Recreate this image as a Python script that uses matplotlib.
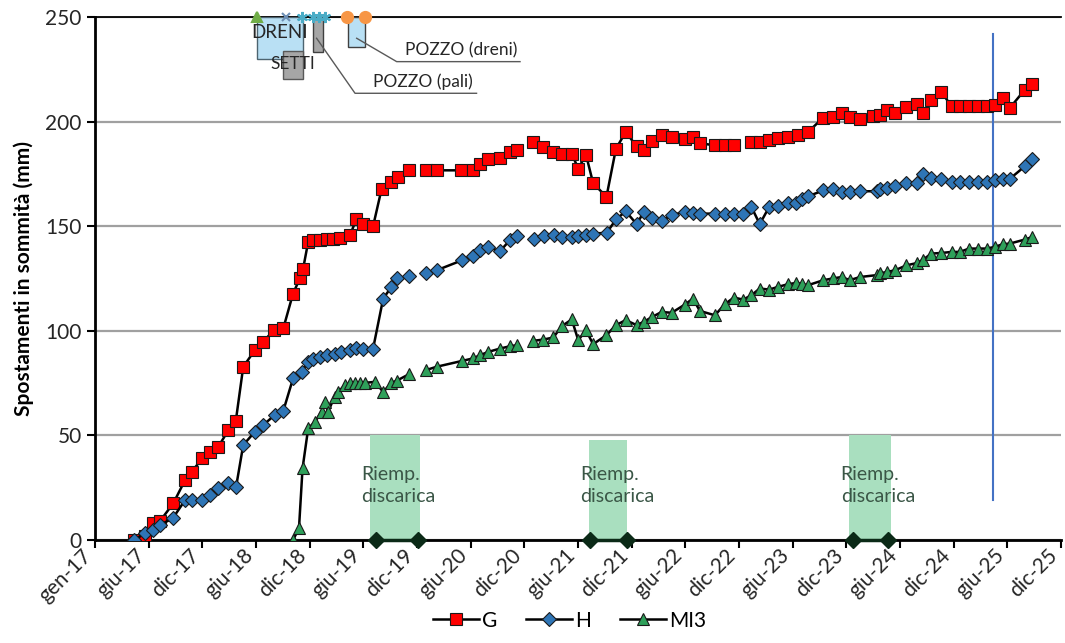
import matplotlib
matplotlib.use("Agg")
import matplotlib.pyplot as plt
import matplotlib.dates as mdates
from matplotlib.patches import Rectangle
import numpy as np
from datetime import datetime

plt.rcParams['font.family'] = ['Lato', 'DejaVu Sans']

# asse x: etichette ogni 181 giorni a partire da gen-17
tick_labels = ["gen-17", "giu-17", "dic-17", "giu-18", "dic-18", "giu-19", "dic-19",
               "giu-20", "dic-20", "giu-21", "dic-21", "giu-22", "dic-22", "giu-23",
               "dic-23", "giu-24", "dic-24", "giu-25", "dic-25"]
tick_start = "2017-01-01"
tick_step_days = 181

# serie G
g_dates = ["2017-05-12", "2017-06-20", "2017-07-16", "2017-08-08", "2017-09-22", "2017-11-01",
           "2017-11-23", "2017-12-29", "2018-01-24", "2018-02-21", "2018-03-27", "2018-04-21",
           "2018-05-16", "2018-06-24", "2018-07-22", "2018-08-27", "2018-09-28", "2018-10-31",
           "2018-11-23", "2018-12-04", "2018-12-21", "2019-01-07", "2019-01-29", "2019-02-21",
           "2019-03-15", "2019-04-07", "2019-05-11", "2019-06-02", "2019-06-25", "2019-07-28",
           "2019-08-26", "2019-09-28", "2019-10-21", "2019-11-27", "2019-12-20",
           "2020-01-22", "2020-02-27", "2020-05-21", "2020-06-29", "2020-07-22", "2020-08-19",
           "2020-09-28", "2020-10-31", "2020-11-23", "2020-12-20",
           "2021-01-18", "2021-02-21", "2021-03-27", "2021-04-24", "2021-05-28", "2021-06-19",
           "2021-07-15", "2021-08-08", "2021-09-22", "2021-10-24", "2021-11-26", "2022-01-02",
           "2022-01-26", "2022-02-23", "2022-03-27", "2022-04-30", "2022-06-13", "2022-07-11",
           "2022-08-03", "2022-09-23", "2022-10-26", "2022-11-26", "2022-12-27", "2023-01-24",
           "2023-02-21", "2023-03-25", "2023-04-24", "2023-05-28", "2023-07-01", "2023-08-03",
           "2023-09-23", "2023-10-25", "2023-11-24", "2023-12-22", "2024-01-25", "2024-03-09",
           "2024-04-01", "2024-04-24", "2024-05-22", "2024-06-30", "2024-08-05", "2024-08-25",
           "2024-09-22", "2024-10-26", "2024-11-29", "2024-12-27", "2025-01-27", "2025-02-26",
           "2025-03-27", "2025-04-24", "2025-05-21", "2025-06-14", "2025-08-03", "2025-08-29"]
g_vals = [0, 2, 8, 9, 17.5, 28.7,
          32.6, 39, 42.2, 44.6, 52.5, 57,
          82.8, 90.7, 94.7, 100.3, 101.1, 117.8,
          125, 129.7, 142.5, 143.3, 143.6, 143.7,
          144, 144.5, 145.6, 153.6, 151, 150,
          168, 171, 173.5, 176.7, None,
          176.7, 176.7, 176.7, 176.7, 179.9, 182.3,
          182.8, 185.4, 186.6, None,
          190.2, 187.8, 185.4, 184.6, 184.6, 177.5,
          184.2, 170.6, 164, 187, 195, 188.2,
          186.2, 190.7, 193.4, 192.6, 191.8, 192.6,
          189.7, 188.6, 188.6, 188.6, None, 190.2,
          190.2, 191.3, 192.3, 192.6, 193.4, 195,
          201.9, 202.2, 204.1, 202.2, 201.4, 202.5,
          203, 205.7, 204.1, 206.9, 208.2, 204.1,
          210.1, 214.1, 207.3, 207.3, 207.3, 207.3,
          207.3, 207.7, 211.4, 206.6, 215.2, 218.1]

# serie H
h_dates = ["2017-05-12", "2017-06-20", "2017-07-16", "2017-08-08", "2017-09-20", "2017-11-01",
           "2017-11-23", "2017-12-29", "2018-01-24", "2018-02-21", "2018-03-27", "2018-04-22",
           "2018-05-16", "2018-06-24", "2018-07-22", "2018-08-30", "2018-09-28", "2018-10-31",
           "2018-11-29", "2018-12-21", "2019-01-07", "2019-01-29", "2019-02-21", "2019-03-20",
           "2019-04-12", "2019-05-11", "2019-06-02", "2019-06-25", "2019-07-28", "2019-08-31",
           "2019-09-28", "2019-10-15", "2019-11-27", "2019-12-20",
           "2020-01-22", "2020-02-27", "2020-05-23", "2020-06-29", "2020-07-22", "2020-08-19",
           "2020-09-28", "2020-10-31", "2020-11-23", "2020-12-20",
           "2021-01-20", "2021-02-22", "2021-03-28", "2021-04-25", "2021-05-28", "2021-06-19",
           "2021-07-15", "2021-08-08", "2021-09-23", "2021-10-24", "2021-11-26", "2022-01-02",
           "2022-01-26", "2022-02-23", "2022-03-27", "2022-04-30", "2022-06-13", "2022-07-11",
           "2022-08-03", "2022-09-23", "2022-10-26", "2022-11-26", "2022-12-27", "2023-01-24",
           "2023-02-21", "2023-03-25", "2023-04-24", "2023-05-28", "2023-06-25", "2023-07-15",
           "2023-08-03", "2023-09-24", "2023-10-25", "2023-11-24", "2023-12-22", "2024-01-25",
           "2024-03-21", "2024-04-01", "2024-04-24", "2024-05-22", "2024-06-30", "2024-08-05",
           "2024-08-25", "2024-09-22", "2024-10-26", "2024-11-29", "2024-12-27", "2025-01-27",
           "2025-02-26", "2025-03-27", "2025-04-24", "2025-05-21", "2025-06-14", "2025-08-03",
           "2025-08-29"]
h_vals = [0, 3.2, 4.8, 7.2, 10.3, 19.1,
          19.1, 19.1, 21.5, 24.7, 27.1, 25.5,
          45.4, 51.7, 54.9, 59.7, 61.7, 77.2,
          80.4, 85.1, 86.3, 87.5, 88.3, 89.1,
          89.9, 90.7, 92, 91.5, 91.5, 115.4,
          121, 125, 126, None,
          127.4, 128.9, 133.7, 135.6, 138.5, 140.1,
          138, 143.3, 145.2, None,
          144.1, 145.2, 145.7, 144.6, 144.8, 145.2,
          146, 146.5, 146.8, 153.2, 157.1, 151,
          156.8, 154.1, 152.5, 155.2, 157, 156.3,
          156, 156, 155.7, 155.7, 155.7, 159.2,
          151, 159.2, 159.5, 161.1, 161.1, 163.2,
          164.3, 167.1, 167.9, 166.3, 166.3, 166.7,
          166.7, 167.9, 168.4, 169, 170.6, 170.6,
          175.1, 173.2, 172.7, 171.1, 171.1, 171.1,
          171.1, 171.1, 171.9, 172.7, 172.7, 178.6,
          182.3]

# serie MI3
mi3_dates = ["2018-10-31", "2018-11-20", "2018-12-02", "2018-12-21", "2019-01-13", "2019-02-04",
             "2019-02-15", "2019-02-26", "2019-03-20", "2019-04-01", "2019-04-24", "2019-05-11",
             "2019-05-28", "2019-06-14", "2019-06-30", "2019-08-03", "2019-08-31", "2019-09-28",
             "2019-10-15", "2019-11-27", "2019-12-20",
             "2020-01-22", "2020-02-27", "2020-05-23", "2020-06-29", "2020-07-22", "2020-08-19",
             "2020-09-28", "2020-10-31", "2020-11-23", "2020-12-20",
             "2021-01-18", "2021-02-21", "2021-03-27", "2021-04-24", "2021-05-28", "2021-06-19",
             "2021-07-15", "2021-08-08", "2021-09-22", "2021-10-24", "2021-11-26", "2022-01-02",
             "2022-01-26", "2022-02-23", "2022-03-27", "2022-04-30", "2022-06-13", "2022-07-11",
             "2022-08-03", "2022-09-23", "2022-10-26", "2022-11-26", "2022-12-27", "2023-01-24",
             "2023-02-21", "2023-03-25", "2023-04-24", "2023-05-28", "2023-06-25", "2023-07-15",
             "2023-08-03", "2023-09-24", "2023-10-25", "2023-11-24", "2023-12-22", "2024-01-25",
             "2024-03-21", "2024-04-01", "2024-04-24", "2024-05-22", "2024-06-30", "2024-08-05",
             "2024-08-25", "2024-09-22", "2024-10-26", "2024-11-29", "2024-12-27", "2025-01-27",
             "2025-02-26", "2025-03-27", "2025-04-24", "2025-05-21", "2025-06-14", "2025-08-03",
             "2025-08-29"]
mi3_vals = [0, 5.6, 34.2, 53.3, 56.5, 61.3,
            66, 61.3, 68.4, 70.8, 74, 75.1,
            75.1, 75.1, 75.1, 75.6, 70.8, 75.1,
            76.1, 79.3, None,
            81.2, 82.8, 85.6, 86.8, 88.3, 89.9,
            91.5, 92.6, 93.1, None,
            95.2, 95.8, 96.8, 102.2, 105.4, 95.5,
            100.3, 93.6, 97.9, 102.7, 105.1, 102.7,
            104.3, 106.6, 109, 108.6, 112.5, 115.4,
            109.5, 107.4, 112.7, 115.9, 114.9, 117,
            120.2, 119.7, 121, 122.3, 122.9, 122.3,
            121.8, 124.2, 125, 125.7, 124.2, 125.7,
            126.6, 127.4, 128.1, 128.9, 131.3, 132.4,
            134, 136.9, 137.2, 137.7, 137.7, 139.3,
            139.3, 139.3, 140.1, 141.4, 141.7, 143.6,
            144.9]

# periodi di riempimento discarica
fill_start = ["2019-07-17", "2021-07-25", "2023-12-19"]
fill_end = ["2020-01-02", "2021-11-30", "2024-05-08"]
fill_height = [50, 48, 50]
fill_marks_start = ["2019-08-06", "2021-07-28", "2024-01-01"]
fill_marks_end = ["2019-12-26", "2021-11-30", "2024-04-28"]

# lavori (simboli sul bordo superiore)
work_dates = ["2018-06-30", "2018-10-07", "2018-12-01", "2019-01-06", "2019-01-26",
              "2019-02-16", "2019-04-30", "2019-06-30"]
work_kind = ["tri", "x", "ast", "ast", "ast", "ast", "dot", "dot"]

ref_date = "2025-04-18"
ref_range = [19, 242]


def d(s):
    return datetime.strptime(s, "%Y-%m-%d")


fig, ax = plt.subplots(figsize=(10.65, 6.43), dpi=100)
plt.subplots_adjust(left=0.0892, right=0.9962, top=0.9736, bottom=0.1602)

# bande verdi
for s, e, h in zip(fill_start, fill_end, fill_height):
    ax.axvspan(d(s), d(e), ymin=0, ymax=h / 250, color='#a9dfbf', zorder=1, lw=0)
    ax.annotate("Riemp.\ndiscarica", xy=(d(s), 26), xytext=(-6, 0), textcoords='offset points',
                ha='left', va='center', fontsize=14, color='#3a5646', linespacing=1.3, zorder=2)
for s, e in zip(fill_marks_start, fill_marks_end):
    ax.plot([d(s), d(e)], [0, 0], color='#0b2a17', lw=2.5, marker='D', ms=8,
            mec='#0b2a17', clip_on=False, zorder=6)

series = [("G", g_dates, g_vals, 's', '#ff0000', 8.5),
          ("H", h_dates, h_vals, 'D', '#2e75b6', 7),
          ("MI3", mi3_dates, mi3_vals, '^', '#2ea05a', 8.5)]
handles = []
for name, ds, vs, mk, col, ms in series:
    x = [d(s) for s in ds]
    y = np.array(vs, dtype=float)
    ln, = ax.plot(x, y, color='black', lw=1.8, marker=mk, ms=ms, mfc=col, mec='#1a1a1a',
                  mew=0.8, label=name, zorder=4)
    handles.append(ln)

# linea verticale di riferimento
ax.plot([d(ref_date), d(ref_date)], ref_range, color='#4472c4', lw=1.5, zorder=3)

# simboli lavori
work_style = {"tri": ('^', '#70ad47', 7), "x": ('x', '#6d8fb5', 6),
              "ast": ((6, 2, 0), '#4bacc6', 8), "dot": ('o', '#f79646', 8)}
for wd, wk in zip(work_dates, work_kind):
    mk, col, ms = work_style[wk]
    ax.plot([d(wd)], [250], marker=mk, color=col, mfc=col, mec=col, ms=ms, mew=1.5,
            clip_on=False, zorder=7)

# riquadri e richiami
tr = ax.transAxes
ax.add_patch(Rectangle((0.168, 0.9195), 0.0476, 0.0805, transform=tr, fc='#b9e0f4',
                       ec='#4d6470', lw=1, zorder=5))
ax.add_patch(Rectangle((0.1949, 0.8809), 0.0207, 0.0547, transform=tr, fc='#a6a6a6',
                       ec='#595959', lw=1, zorder=5))
ax.add_patch(Rectangle((0.2254, 0.9337), 0.011, 0.0663, transform=tr, fc='#a6a6a6',
                       ec='#404040', lw=1, zorder=5))
ax.add_patch(Rectangle((0.2622, 0.9433), 0.0173, 0.0567, transform=tr, fc='#b9e0f4',
                       ec='#404040', lw=1, zorder=5))
ax.text(0.1915, 0.9694, "DRENI", transform=tr, ha='center', va='center', fontsize=13.5,
        color='#262626', zorder=6)
ax.text(0.205, 0.910, "SETTI", transform=tr, ha='center', va='center', fontsize=12.5,
        color='#262626', zorder=6)
ax.plot([0.2294, 0.2692, 0.3950], [0.9593, 0.8541, 0.8541], transform=tr, color='#595959',
        lw=1, zorder=6)
ax.text(0.2878, 0.8600, "POZZO (pali)", transform=tr, ha='left', va='bottom', fontsize=12.5,
        color='#262626')
ax.plot([0.2709, 0.3123, 0.4400], [0.9593, 0.9146, 0.9146], transform=tr, color='#595959',
        lw=1, zorder=6)
ax.text(0.3209, 0.9205, "POZZO (dreni)", transform=tr, ha='left', va='bottom', fontsize=12.5,
        color='#262626')

# assi
t0 = mdates.date2num(d(tick_start))
ticks = [t0 + k * tick_step_days for k in range(len(tick_labels))]
ax.set_xticks(ticks)
ax.set_xticklabels([])
# etichette ruotate disegnate a mano, con l'estremo destro sotto il tick
for t, lab in zip(ticks, tick_labels):
    ax.annotate(lab, xy=(t, 0), xycoords=('data', 'axes fraction'), xytext=(-4.5, -9),
                textcoords='offset points', rotation=45, ha='right', va='center',
                rotation_mode='anchor', fontsize=15, color='#262626', annotation_clip=False)
ax.set_xlim(ticks[0], ticks[-1])
ax.set_ylim(0, 250)
ax.set_yticks(range(0, 251, 50))
ax.grid(axis='y', color='#a0a0a0', lw=1.6, zorder=0)
ax.set_axisbelow(True)
ax.set_ylabel("Spostamenti in sommità (mm)", fontsize=15, fontweight='bold', labelpad=8)
ax.tick_params(axis='both', direction='out', length=6, width=1.5, labelsize=15,
               labelcolor='#262626')
for side in ['left', 'bottom']:
    ax.spines[side].set_linewidth(2)
ax.spines['top'].set_linewidth(1.3)
ax.spines['right'].set_visible(False)

fig.legend(handles, [h.get_label() for h in handles], loc='lower center',
           bbox_to_anchor=(0.535, -0.01), ncol=3, frameon=False, fontsize=15,
           handlelength=2.2, handletextpad=0.15, columnspacing=1.4)

plt.savefig("out.png", dpi=100)
